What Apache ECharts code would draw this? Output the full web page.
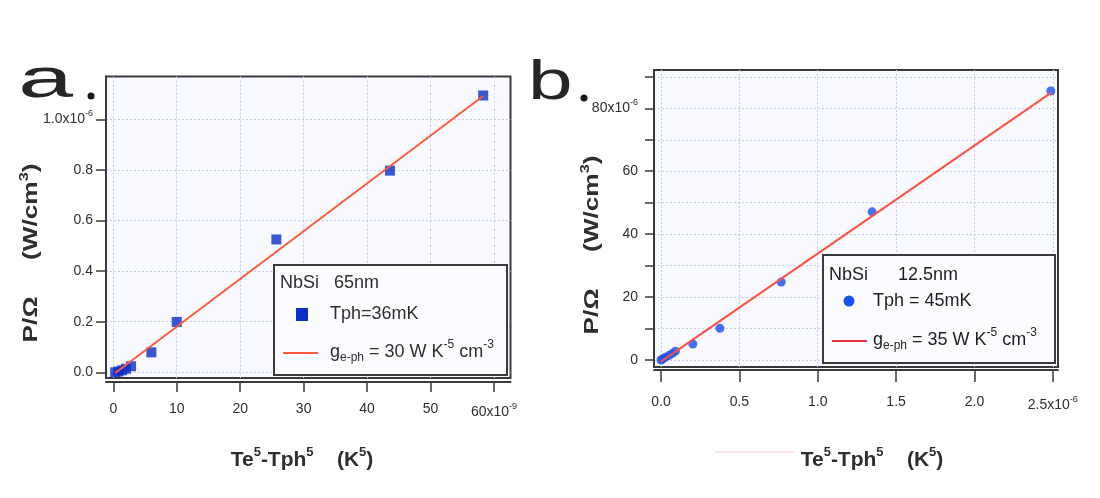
<!DOCTYPE html>
<html><head><meta charset="utf-8">
<script src="https://cdn.jsdelivr.net/npm/echarts@6/dist/echarts.min.js"></script>
<style>html,body{margin:0;padding:0;background:#fff}#c{width:1100px;height:498px}</style>
</head><body><div id="c"></div>
<script>
// Panel a: x in 1e-9 K^5, y in 1e-6 W/cm^3
const aX = [0.3, 0.8, 1.4, 2.0, 2.8, 6.0, 10.0, 25.7, 43.6, 58.3];
const aY = [0.0, 0.003, 0.008, 0.014, 0.024, 0.079, 0.199, 0.525, 0.797, 1.094];
const aFitX = [0.3, 58.3];
const aFitY = [-0.003, 1.092];
// Panel b: x in 1e-6 K^5, y in 1e-6 W/cm^3
const bX = [0.0, 0.009, 0.027, 0.05, 0.073, 0.092, 0.203, 0.376, 0.767, 1.347, 2.487];
const bY = [0.0, 0.3, 0.85, 1.4, 2.1, 2.8, 5.1, 10.1, 24.8, 47.1, 85.5];
const bFitX = [0.0, 2.49];
const bFitY = [-0.5, 85.0];
// tick values
const aXTicks = [0, 10, 20, 30, 40, 50, 60];
const aYTicks = [0, 0.2, 0.4, 0.6, 0.8, 1.0];
const bXTicks = [0, 0.5, 1.0, 1.5, 2.0, 2.5];
const bYTicks = [0, 10, 20, 30, 40, 50, 60, 70, 80, 90];
const bYLabels = [0, 20, 40, 60, 80];
// text
const aLegendTitle = 'NbSi   65nm';
const aLegendData = 'Tph=36mK';
const aLegendFit = '{m|g}{sub|e-ph}{m| = 30 W K}{sup|-5}{m| cm}{sup|-3}';
const bLegendTitle = 'NbSi      12.5nm';
const bLegendData = 'Tph = 45mK';
const bLegendFit = '{m|g}{sub|e-ph}{m| = 35 W K}{sup|-5}{m| cm}{sup|-3}';
const yTitle = 'P/Ω     (W/cm{s|3})';
const xTitle = 'Te{s|5}-Tph{s|5}    (K{s|5})';

const FF = '"Liberation Sans", Arial, sans-serif';
const MONO = '56px "Liberation Mono", monospace';
const TC = '#2e2e2e';
const rich = {
  n: {fontSize: 14, color: TC, fontFamily: FF},
  s: {fontSize: 9, color: TC, fontFamily: FF, padding: [0, 0, 12, 0]}
};
function pair(arrX, arrY) { return arrX.map((x, i) => [x, arrY[i]]); }

const chart = echarts.init(document.getElementById('c'), null, {renderer: 'canvas'});

const axisLineStyle = {color: '#3a3a3a', width: 2};
const gridLine = {show: true, lineStyle: {color: '#c9c9f6', width: 1, type: [2, 2]}};

const option = {
  animation: false,
  backgroundColor: '#ffffff',
  grid: [
    {left: 106, top: 76.5, width: 404.5, height: 301.5, show: true, borderColor: '#3a3a3a', borderWidth: 2, backgroundColor: '#f8faff'},
    {left: 654, top: 70, width: 404, height: 297, show: true, borderColor: '#3a3a3a', borderWidth: 2, backgroundColor: '#f8faff'}
  ],
  xAxis: [
    {type: 'value', gridIndex: 0, min: -1.15, max: 62.6, offset: 4,
     axisLine: {show: true, onZero: false, lineStyle: axisLineStyle},
     axisTick: {show: true, length: 10, inside: false, customValues: aXTicks, lineStyle: {color: '#3a3a3a', width: 1.5}},
     axisLabel: {customValues: aXTicks, margin: 20, fontSize: 14, color: TC, fontFamily: FF, rich: rich,
       formatter: v => Math.abs(v - 60) < 1e-9 ? '{n|60x10}{s|-9}' : String(Math.round(v))},
     splitLine: gridLine},
    {type: 'value', gridIndex: 1, min: -0.0447, max: 2.533, offset: 3,
     axisLine: {show: true, onZero: false, lineStyle: axisLineStyle},
     axisTick: {show: true, length: 12, inside: false, customValues: bXTicks, lineStyle: {color: '#3a3a3a', width: 1.5}},
     axisLabel: {customValues: bXTicks, margin: 25, fontSize: 14, color: TC, fontFamily: FF, rich: rich,
       formatter: v => Math.abs(v - 2.5) < 1e-9 ? '{n|2.5x10}{s|-6}' : v.toFixed(1)},
     splitLine: gridLine}
  ],
  yAxis: [
    {type: 'value', gridIndex: 0, min: -0.0225, max: 1.169,
     axisLine: {show: true, onZero: false, lineStyle: axisLineStyle},
     axisTick: {show: true, length: 10, inside: false, customValues: aYTicks, lineStyle: {color: '#3a3a3a', width: 1.5}},
     axisLabel: {customValues: aYTicks, margin: 13, fontSize: 14, color: TC, fontFamily: FF, rich: rich,
       formatter: v => Math.abs(v - 1) < 1e-9 ? '{n|1.0x10}{s|-6}' : v.toFixed(1)},
     splitLine: gridLine},
    {type: 'value', gridIndex: 1, min: -2.225, max: 92.18,
     axisLine: {show: true, onZero: false, lineStyle: axisLineStyle},
     axisTick: {show: true, length: 9, inside: false, customValues: bYTicks, lineStyle: {color: '#3a3a3a', width: 1.5}},
     axisLabel: {customValues: bYLabels, margin: 16, fontSize: 14, color: TC, fontFamily: FF, rich: rich,
       formatter: v => Math.abs(v - 80) < 1e-9 ? '{n|80x10}{s|-6}' : String(Math.round(v))},
     splitLine: gridLine}
  ],
  series: [
    {type: 'line', xAxisIndex: 0, yAxisIndex: 0, data: pair(aFitX, aFitY), symbol: 'none',
     lineStyle: {color: '#ff5a3c', width: 2}, z: 3},
    {type: 'scatter', xAxisIndex: 0, yAxisIndex: 0, data: pair(aX, aY), symbol: 'rect', symbolSize: 10,
     itemStyle: {color: '#0a2ec6'}, z: 2},
    {type: 'line', xAxisIndex: 1, yAxisIndex: 1, data: pair(bFitX, bFitY), symbol: 'none',
     lineStyle: {color: '#ff5040', width: 2}, z: 3},
    {type: 'scatter', xAxisIndex: 1, yAxisIndex: 1, data: pair(bX, bY), symbol: 'circle', symbolSize: 9,
     itemStyle: {color: '#1a4ff0'}, z: 2}
  ],
  graphic: [
    // panel letters
    {type: 'text', x: 16, y: 54, scaleX: 1.8, style: {text: 'a', font: MONO, fill: '#262626'}},
    {type: 'circle', shape: {cx: 91, cy: 96, r: 3.5}, style: {fill: '#1a1a1a'}},
    {type: 'text', x: 526, y: 56, scaleX: 1.45, style: {text: 'b', font: MONO, fill: '#262626'}},
    {type: 'circle', shape: {cx: 584, cy: 98, r: 3.5}, style: {fill: '#1a1a1a'}},
    // y titles
    {type: 'text', x: 31, y: 253, rotation: Math.PI / 2, scaleX: 1.25,
     style: {text: yTitle, font: 'bold 21px ' + FF, fill: TC, align: 'center', verticalAlign: 'middle',
       rich: {s: {font: 'bold 13px ' + FF, fill: TC, padding: [0, 0, 14, 0]}}}},
    {type: 'text', x: 592, y: 245, rotation: Math.PI / 2, scaleX: 1.25,
     style: {text: yTitle, font: 'bold 21px ' + FF, fill: TC, align: 'center', verticalAlign: 'middle',
       rich: {s: {font: 'bold 13px ' + FF, fill: TC, padding: [0, 0, 14, 0]}}}},
    // x titles
    {type: 'text', x: 302, y: 460,
     style: {text: xTitle, font: 'bold 21px ' + FF, fill: TC, align: 'center', verticalAlign: 'middle',
       rich: {s: {font: 'bold 13px ' + FF, fill: TC, padding: [0, 0, 16, 0]}}}},
    {type: 'text', x: 872, y: 460,
     style: {text: xTitle, font: 'bold 21px ' + FF, fill: TC, align: 'center', verticalAlign: 'middle',
       rich: {s: {font: 'bold 13px ' + FF, fill: TC, padding: [0, 0, 16, 0]}}}},
    // faint artifact line
    {type: 'line', shape: {x1: 715, y1: 452, x2: 795, y2: 452}, style: {stroke: '#f3dede', lineWidth: 1.5}},
    // legend a
    {type: 'rect', shape: {x: 274, y: 265, width: 233, height: 110}, style: {fill: '#fbfcff', stroke: '#3a3a3a', lineWidth: 2}, z: 10},
    {type: 'text', x: 280, y: 283, z: 11, style: {text: aLegendTitle, font: '18px ' + FF, fill: TC, verticalAlign: 'middle'}},
    {type: 'rect', shape: {x: 296, y: 308, width: 12, height: 13}, style: {fill: '#0a2ec6'}, z: 11},
    {type: 'text', x: 330, y: 314, z: 11, style: {text: aLegendData, font: '18px ' + FF, fill: TC, verticalAlign: 'middle'}},
    {type: 'line', shape: {x1: 283, y1: 353, x2: 318, y2: 353}, style: {stroke: '#ff5a3c', lineWidth: 2}, z: 11},
    {type: 'text', x: 330, y: 352, z: 11, style: {text: aLegendFit, verticalAlign: 'middle',
      rich: {m: {font: '18px ' + FF, fill: TC}, sub: {font: '12px ' + FF, fill: TC, padding: [11, 0, 0, 0]},
             sup: {font: '12px ' + FF, fill: TC, padding: [0, 0, 15, 0]}}}},
    // legend b
    {type: 'rect', shape: {x: 823, y: 255, width: 232, height: 108}, style: {fill: '#fbfcff', stroke: '#3a3a3a', lineWidth: 2}, z: 10},
    {type: 'text', x: 829, y: 275, z: 11, style: {text: bLegendTitle, font: '18px ' + FF, fill: '#1e1e1e', verticalAlign: 'middle'}},
    {type: 'circle', shape: {cx: 849, cy: 301, r: 5.5}, style: {fill: '#1a4ff0'}, z: 11},
    {type: 'text', x: 873, y: 301, z: 11, style: {text: bLegendData, font: '18px ' + FF, fill: '#1e1e1e', verticalAlign: 'middle'}},
    {type: 'line', shape: {x1: 832, y1: 341, x2: 867, y2: 341}, style: {stroke: '#ee2a3a', lineWidth: 2}, z: 11},
    {type: 'text', x: 873, y: 340, z: 11, style: {text: bLegendFit, verticalAlign: 'middle',
      rich: {m: {font: '18px ' + FF, fill: '#1e1e1e'}, sub: {font: '12px ' + FF, fill: '#1e1e1e', padding: [11, 0, 0, 0]},
             sup: {font: '12px ' + FF, fill: '#1e1e1e', padding: [0, 0, 15, 0]}}}}
  ]
};
chart.setOption(option);
</script>
</body></html>
